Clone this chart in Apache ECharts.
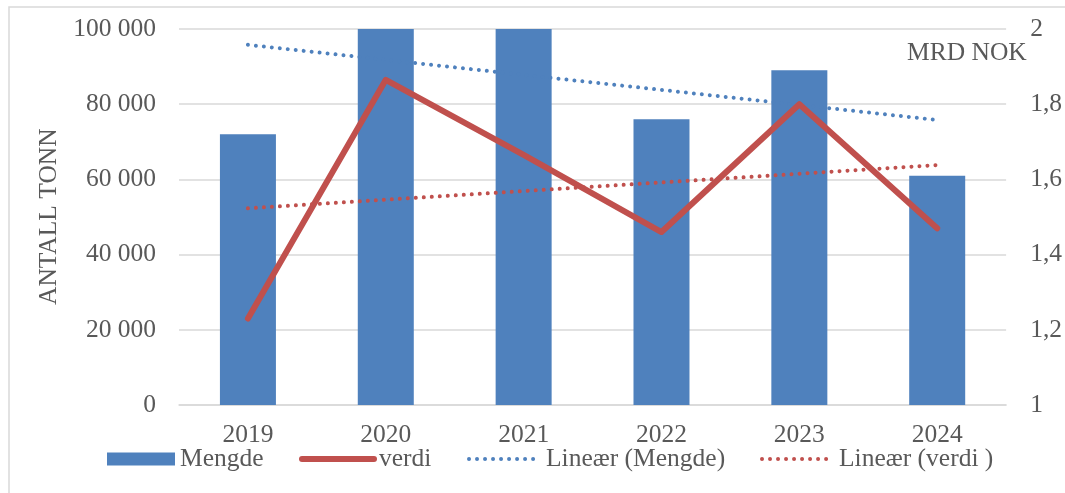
<!DOCTYPE html>
<html>
<head>
<meta charset="utf-8">
<script src="https://cdn.jsdelivr.net/npm/echarts@6/dist/echarts.min.js"></script>
<style>
  html, body { margin: 0; padding: 0; background: #ffffff; }
  #chart { width: 1065px; height: 493px; }
</style>
</head>
<body>
<div id="chart"></div>
<script>
// Years on the category axis
const years = ['2019', '2020', '2021', '2022', '2023', '2024'];
// Mengde (tonn) – 2020 and 2021 exceed the 100 000 axis ceiling and are clipped
const mengde = [72000, 107500, 109000, 76000, 89000, 61000];
// Verdi (mrd NOK)
const verdi = [1.23, 1.865, 1.665, 1.46, 1.80, 1.47];
// Linear trend end points (first and last year)
const trendMengde = [95800, null, null, null, null, 75800];
const trendVerdi = [1.523, null, null, null, null, 1.638];
// Axis tick settings
const leftTicks = { min: 0, max: 100000, interval: 20000 };
const rightTicks = { min: 1, max: 2, interval: 0.2 };

const FONT = '"Liberation Serif", "DejaVu Serif", serif';
const FS = 25.5;
const TEXT = '#595959';
const GRID = '#D9D9D9';
const BLUE = '#4F81BD';
const RED = '#C0504D';
const DOTS = [0.01, 8];

const chart = echarts.init(document.getElementById('chart'), null, { renderer: 'canvas' });

function thousands(v) {
  return String(v).replace(/\B(?=(\d{3})+(?!\d))/g, ' ');
}
function decimalComma(v) {
  return String(Math.round(v * 10) / 10).replace('.', ',');
}

const legendText = { fontFamily: FONT, fontSize: FS, color: TEXT };
const hiddenSymbol = { opacity: 0, borderWidth: 0 };

chart.setOption({
  animation: false,
  backgroundColor: '#ffffff',
  textStyle: { fontFamily: FONT },
  grid: { left: 179, right: 54, top: 29, bottom: 88, containLabel: false },
  graphic: [
    {
      type: 'rect',
      shape: { x: 9, y: 7, width: 1100, height: 600 },
      style: { fill: 'none', stroke: GRID, lineWidth: 1.5 },
      silent: true
    },
    {
      type: 'text',
      left: 907,
      top: 40,
      style: { text: 'MRD NOK', font: FS + 'px ' + FONT, fill: TEXT }
    },
    {
      type: 'text',
      x: 36,
      y: 305,
      rotation: Math.PI / 2,
      style: { text: 'ANTALL TONN', font: FS + 'px ' + FONT, fill: TEXT, textAlign: 'left', textVerticalAlign: 'top' }
    }
  ],
  legend: [
    {
      data: ['Mengde'], left: 102, top: 441, icon: 'rect',
      itemWidth: 68, itemHeight: 13, textStyle: legendText
    },
    {
      data: ['verdi'], left: 294, top: 441,
      itemWidth: 72, itemHeight: 14, textStyle: legendText,
      itemStyle: hiddenSymbol,
      lineStyle: { color: RED, width: 6, cap: 'round', opacity: 1 }
    },
    {
      data: ['Lineær (Mengde)'], left: 462, top: 441,
      itemWidth: 72, itemHeight: 14, textStyle: legendText,
      itemStyle: hiddenSymbol,
      lineStyle: { color: BLUE, width: 4, type: DOTS, cap: 'round', opacity: 1 }
    },
    {
      data: ['Lineær (verdi )'], left: 755, top: 441,
      itemWidth: 72, itemHeight: 14, textStyle: legendText,
      itemStyle: hiddenSymbol,
      lineStyle: { color: RED, width: 4, type: DOTS, cap: 'round', opacity: 1 }
    }
  ],
  xAxis: {
    type: 'category',
    data: years,
    axisLine: { show: true, lineStyle: { color: GRID, width: 1.5 } },
    axisTick: { show: false },
    axisLabel: { color: TEXT, fontFamily: FONT, fontSize: FS, margin: 17 }
  },
  yAxis: [
    {
      type: 'value',
      min: leftTicks.min, max: leftTicks.max, interval: leftTicks.interval,
      axisLine: { show: false },
      axisTick: { show: false },
      splitLine: { show: true, lineStyle: { color: GRID, width: 1.5 } },
      axisLabel: { color: TEXT, fontFamily: FONT, fontSize: FS, margin: 23, formatter: thousands }
    },
    {
      type: 'value',
      min: rightTicks.min, max: rightTicks.max, interval: rightTicks.interval,
      axisLine: { show: false },
      axisTick: { show: false },
      splitLine: { show: false },
      axisLabel: { color: TEXT, fontFamily: FONT, fontSize: FS, margin: 24, formatter: decimalComma }
    }
  ],
  series: [
    {
      name: 'Mengde',
      type: 'bar',
      data: mengde,
      yAxisIndex: 0,
      barWidth: 56,
      clip: true,
      itemStyle: { color: BLUE },
      z: 1
    },
    {
      name: 'verdi',
      type: 'line',
      data: verdi,
      yAxisIndex: 1,
      symbol: 'none',
      lineStyle: { color: RED, width: 6, cap: 'round', join: 'round' },
      itemStyle: { color: RED },
      z: 3
    },
    {
      name: 'Lineær (Mengde)',
      type: 'line',
      data: trendMengde,
      yAxisIndex: 0,
      connectNulls: true,
      symbol: 'none',
      lineStyle: { color: BLUE, width: 4, type: DOTS, cap: 'round' },
      itemStyle: { color: BLUE },
      z: 2
    },
    {
      name: 'Lineær (verdi )',
      type: 'line',
      data: trendVerdi,
      yAxisIndex: 1,
      connectNulls: true,
      symbol: 'none',
      lineStyle: { color: RED, width: 4, type: DOTS, cap: 'round' },
      itemStyle: { color: RED },
      z: 4
    }
  ]
});
</script>
</body>
</html>
